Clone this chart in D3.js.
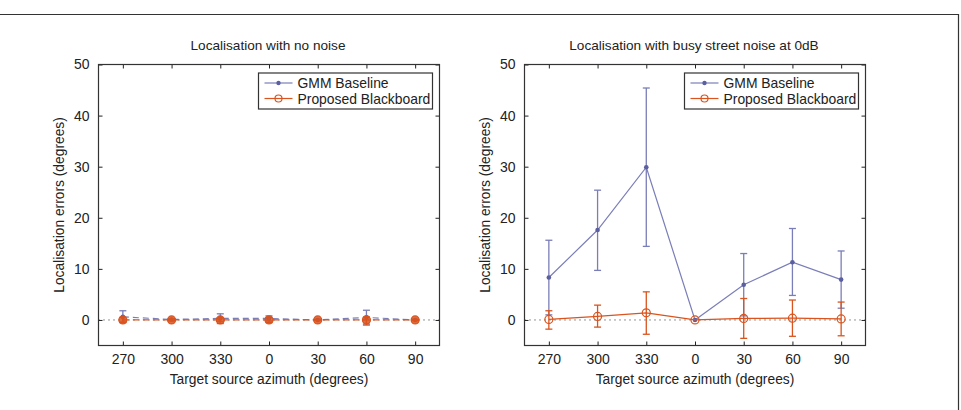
<!DOCTYPE html>
<html>
<head>
<meta charset="utf-8">
<script src="https://cdn.jsdelivr.net/npm/d3@7"></script>
<style>
  body { margin: 0; background: #fff; }
  svg { font-family: "Liberation Sans", Arial, sans-serif; display: block; }
</style>
</head>
<body>
<svg width="961" height="410"></svg>
<script>
const azimuths = ['270', '300', '330', '0', '30', '60', '90'];
const yTicks = [0, 10, 20, 30, 40, 50];
const seriesNames = ['GMM Baseline', 'Proposed Blackboard'];

// no noise
const gmmQuiet = [0.6, 0.1, 0.3, 0.3, 0.0, 0.5, 0.0];
const gmmQuietLo = [-0.4, -0.1, -0.3, -0.2, -0.1, -0.8, -0.1];
const gmmQuietHi = [1.8, 0.2, 1.2, 0.8, 0.1, 1.9, 0.1];
const bbQuiet = [0.0, 0.0, 0.0, 0.0, 0.0, 0.0, 0.0];
const bbQuietLo = [-0.5, -0.2, -0.7, -0.5, -0.1, -1.0, -0.1];
const bbQuietHi = [0.5, 0.2, 0.4, 0.5, 0.1, 0.6, 0.1];

// busy street noise at 0dB
const gmmNoise = [8.3, 17.6, 29.9, 0.0, 6.9, 11.3, 7.9];
const gmmNoiseLo = [1.0, 9.7, 14.4, 0.0, 0.8, 4.8, 2.3];
const gmmNoiseHi = [15.6, 25.4, 45.4, 0.0, 13.0, 17.9, 13.5];
const bbNoise = [0.1, 0.7, 1.4, 0.0, 0.3, 0.35, 0.2];
const bbNoiseLo = [-1.8, -1.4, -2.8, 0.0, -3.6, -3.2, -3.1];
const bbNoiseHi = [1.8, 2.9, 5.5, 0.0, 4.2, 3.9, 3.5];

const blue = '#7a7eb8';
const blueDark = '#5b5f9f';
const orange = '#d9541e';

const svg = d3.select('svg');

// outer frame (only top and right edges are visible)
svg.append('path')
    .attr('d', 'M0,14.5H958.5V410')
    .attr('fill', 'none').attr('stroke', '#333').attr('stroke-width', 1.2);

const panels = [
    { left: 98.5, title: 'Localisation with no noise', dashed: true,
      series: [
        { name: seriesNames[0], v: gmmQuiet, lo: gmmQuietLo, hi: gmmQuietHi },
        { name: seriesNames[1], v: bbQuiet, lo: bbQuietLo, hi: bbQuietHi }
      ] },
    { left: 524.5, title: 'Localisation with busy street noise at 0dB', dashed: false,
      series: [
        { name: seriesNames[0], v: gmmNoise, lo: gmmNoiseLo, hi: gmmNoiseHi },
        { name: seriesNames[1], v: bbNoise, lo: bbNoiseLo, hi: bbNoiseHi }
      ] }
];

const innerWidth = 341;
const plotTop = 64.5;
const innerHeight = 281;

panels.forEach(p => {
    const g = svg.append('g').attr('transform', `translate(${p.left},${plotTop})`);

    const xScale = d3.scaleLinear().domain([-0.5, azimuths.length - 0.5]).range([0, innerWidth]);
    const yScale = d3.scaleLinear().domain([-5, 50]).range([innerHeight, 0]);

    // axes (ticks inside on all sides)
    const xIdx = azimuths.map((d, i) => i);
    g.append('g').attr('transform', `translate(0,${innerHeight})`)
        .call(d3.axisBottom(xScale).tickValues(xIdx).tickFormat(i => azimuths[i]).tickSizeInner(-4).tickSizeOuter(0).tickPadding(9));
    g.append('g')
        .call(d3.axisLeft(yScale).tickValues(yTicks).tickSizeInner(-4).tickSizeOuter(0).tickPadding(9));
    g.selectAll('.tick text').attr('fill', '#222').style('font-size', '14px');
    // mirrored ticks on top and right
    g.append('g').attr('class', 'mirror')
        .call(d3.axisTop(xScale).tickValues(xIdx).tickSizeInner(-4).tickSizeOuter(0));
    g.append('g').attr('class', 'mirror').attr('transform', `translate(${innerWidth},0)`)
        .call(d3.axisRight(yScale).tickValues(yTicks).tickSizeInner(-4).tickSizeOuter(0));
    g.selectAll('.mirror text').remove();
    g.selectAll('.domain').remove();
    g.selectAll('.tick line').attr('stroke', '#222');

    // zero reference line
    g.append('line')
        .attr('x1', 0).attr('x2', innerWidth)
        .attr('y1', yScale(0)).attr('y2', yScale(0))
        .attr('stroke', '#111').attr('stroke-width', 0.9).attr('stroke-dasharray', '1,4');

    const line = d3.line().x((d, i) => xScale(i)).y(d => yScale(d));

    p.series.forEach((s, k) => {
        const col = k === 0 ? blue : orange;
        const sg = g.append('g');
        // error bars
        s.v.forEach((d, i) => {
            if (s.hi[i] === s.lo[i]) return;
            const x = xScale(i);
            sg.append('line').attr('x1', x).attr('x2', x)
                .attr('y1', yScale(s.lo[i])).attr('y2', yScale(s.hi[i]))
                .attr('stroke', col).attr('stroke-width', 1.3);
            [s.lo[i], s.hi[i]].forEach(e => {
                sg.append('line').attr('x1', x - 3.5).attr('x2', x + 3.5)
                    .attr('y1', yScale(e)).attr('y2', yScale(e))
                    .attr('stroke', col).attr('stroke-width', 1.3);
            });
        });
        sg.append('path').datum(s.v)
            .attr('d', line)
            .attr('fill', 'none').attr('stroke', col).attr('stroke-width', 1.2)
            .attr('stroke-dasharray', p.dashed ? '6,4' : null);
        // markers
        if (k === 0) {
            sg.selectAll('circle').data(s.v).enter().append('circle')
                .attr('cx', (d, i) => xScale(i)).attr('cy', d => yScale(d))
                .attr('r', 2.3).attr('fill', blueDark);
        } else {
            sg.selectAll('circle').data(s.v).enter().append('circle')
                .attr('cx', (d, i) => xScale(i)).attr('cy', d => yScale(d))
                .attr('r', 4).attr('fill', p.dashed ? orange : 'none')
                .attr('fill-opacity', p.dashed ? 0.85 : 0)
                .attr('stroke', orange).attr('stroke-width', 1.2);
        }
    });

    // axes box
    g.append('rect').attr('width', innerWidth).attr('height', innerHeight)
        .attr('fill', 'none').attr('stroke', '#333').attr('stroke-width', 1.2);

    // title and labels
    g.append('text')
        .attr('x', innerWidth / 2 - 1).attr('y', -15)
        .attr('text-anchor', 'middle').style('font-size', '13.6px').attr('fill', '#222')
        .text(p.title);
    g.append('text')
        .attr('x', innerWidth / 2).attr('y', innerHeight + 38)
        .attr('text-anchor', 'middle').style('font-size', '13.8px').attr('fill', '#222')
        .text('Target source azimuth (degrees)');
    g.append('text')
        .attr('transform', `translate(-35,${innerHeight / 2}) rotate(-90)`)
        .attr('text-anchor', 'middle').style('font-size', '13.8px').attr('fill', '#222')
        .text('Localisation errors (degrees)');

    // legend
    const lg = g.append('g').attr('transform', `translate(${innerWidth - 181},8.5)`);
    lg.append('rect').attr('width', 174).attr('height', 36)
        .attr('fill', '#fff').attr('stroke', '#333').attr('stroke-width', 1.2);
    seriesNames.forEach((n, k) => {
        const y = 10 + k * 15.5;
        const col = k === 0 ? blue : orange;
        lg.append('line').attr('x1', 6).attr('x2', 34).attr('y1', y).attr('y2', y)
            .attr('stroke', col).attr('stroke-width', 1.2);
        if (k === 0) {
            lg.append('circle').attr('cx', 20).attr('cy', y).attr('r', 2.2).attr('fill', blueDark);
        } else {
            lg.append('circle').attr('cx', 20).attr('cy', y).attr('r', 3.5)
                .attr('fill', 'none').attr('stroke', orange).attr('stroke-width', 1.2);
        }
        lg.append('text').attr('x', 39).attr('y', y + 5)
            .style('font-size', '13.9px').attr('fill', '#222').text(n);
    });
});
</script>
</body>
</html>
